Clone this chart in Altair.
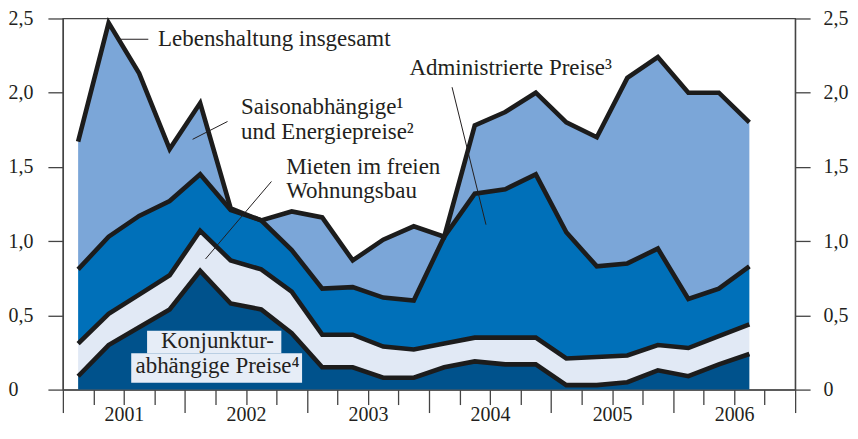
import altair as alt
import pandas as pd

# ---- data (contributions in percentage points) ----
quarters = ["2001 Q1", "2001 Q2", "2001 Q3", "2001 Q4",
            "2002 Q1", "2002 Q2", "2002 Q3", "2002 Q4",
            "2003 Q1", "2003 Q2", "2003 Q3", "2003 Q4",
            "2004 Q1", "2004 Q2", "2004 Q3", "2004 Q4",
            "2005 Q1", "2005 Q2", "2005 Q3", "2005 Q4",
            "2006 Q1", "2006 Q2", "2006 Q3"]
konjunktur = [0.09, 0.30, 0.42, 0.54, 0.80, 0.58, 0.54, 0.38, 0.15, 0.15, 0.08, 0.08,
              0.15, 0.19, 0.17, 0.17, 0.03, 0.03, 0.05, 0.13, 0.09, 0.17, 0.24]
mieten = [0.22, 0.21, 0.22, 0.23, 0.27, 0.29, 0.27, 0.28, 0.22, 0.22, 0.21, 0.19,
          0.16, 0.16, 0.18, 0.18, 0.18, 0.19, 0.18, 0.17, 0.19, 0.19, 0.20]
administriert = [0.50, 0.52, 0.53, 0.50, 0.38, 0.34, 0.33, 0.28, 0.31, 0.32, 0.33, 0.33,
                 0.72, 0.97, 1.00, 1.10, 0.85, 0.61, 0.62, 0.65, 0.33, 0.32, 0.39]
saison = [0.86, 1.44, 0.96, 0.35, 0.48, 0.01, 0.00, 0.26, 0.48, 0.18, 0.39, 0.50,
          0.00, 0.46, 0.52, 0.55, 0.74, 0.87, 1.25, 1.29, 1.39, 1.32, 0.97]

series_names = ["Konjunkturabhängige Preise", "Mieten im freien Wohnungsbau",
                "Administrierte Preise", "Saisonabhängige und Energiepreise"]
series_colors = ["#00528C", "#E1E9F5", "#0070B9", "#7BA6D8"]

y_ticks = [0, 0.5, 1.0, 1.5, 2.0, 2.5]
x_ticks = [2001 + k / 4 for k in range(25)]

# annotation labels
labels_left = pd.DataFrame({
    "x": [2001.78, 2002.46, 2002.46, 2002.83, 2002.83, 2003.84],
    "y": [2.36, 1.905, 1.733, 1.50, 1.336, 2.169],
    "text": ["Lebenshaltung insgesamt", "Saisonabhängige¹", "und Energiepreise²",
             "Mieten im freien", "Wohnungsbau", "Administrierte Preise³"],
})
labels_center = pd.DataFrame({
    "x": [2002.267, 2002.267],
    "y": [0.324, 0.159],
    "text": ["Konjunktur-", "abhängige Preise⁴"],
})
leaders = pd.DataFrame({
    "x": [2001.47, 2002.063, 2002.169, 2004.189],
    "y": [2.36, 1.686, 0.880, 2.037],
    "x2": [2001.70, 2002.349, 2002.709, 2004.467],
    "y2": [2.36, 1.806, 1.402, 1.111],
})
box = pd.DataFrame({
    "x": [2001.69, 2001.56],
    "x2": [2002.79, 2002.96],
    "y": [0.245, 0.046],
    "y2": [0.397, 0.245],
})

rows = []
for i, q in enumerate(quarters):
    year = int(q[:4])
    qq = int(q[-1])
    xv = year + (qq - 0.5) / 4
    lo = 0.0
    for name, vals in zip(series_names, [konjunktur, mieten, administriert, saison]):
        hi = lo + vals[i]
        rows.append({"x": xv, "series": name, "lo": lo, "hi": hi})
        lo = hi
df = pd.DataFrame(rows)

FONT = "Liberation Serif"
TXT = "#231f20"
AX = "#444444"

xscale = alt.Scale(domain=[2001, 2007], nice=False, zero=False)
yscale = alt.Scale(domain=[0, 2.5], nice=False, zero=True)

x_axis = alt.Axis(
    values=x_ticks, title=None, grid=False,
    labelExpr="datum.value % 1 === 0.5 ? toString(floor(datum.value)) : ''",
    labelFont=FONT, labelFontSize=20, labelColor=TXT, labelPadding=0,
    labelOverlap=False, labelFlush=False, labelBaseline="top",
    tickSize={"condition": {"test": "datum.value % 1 === 0", "value": 23}, "value": 15},
    tickColor=AX, tickWidth=1.3, domainColor=AX, domainWidth=1.3,
)
y_label_expr = "datum.value == 0 ? '0' : replace(format(datum.value, '.1f'), '.', ',')"
y_left = alt.Axis(
    orient="left", values=y_ticks, title=None, grid=False, labelExpr=y_label_expr,
    labelFont=FONT, labelFontSize=20, labelColor=TXT, labelAlign="left",
    labelBaseline="middle", labelPadding=40, tickSize=15, tickColor=AX, tickWidth=1.3,
    domainColor=AX, domainWidth=1.3, labelFlush=False, labelOverlap=False,
)
y_right = alt.Axis(
    orient="right", values=y_ticks, title=None, grid=False, labelExpr=y_label_expr,
    labelFont=FONT, labelFontSize=20, labelColor=TXT, labelAlign="left",
    labelBaseline="middle", labelPadding=13, tickSize=15, tickColor=AX, tickWidth=1.3,
    domainColor=AX, domainWidth=1.3, labelFlush=False, labelOverlap=False,
)


def X(field="x"):
    return alt.X(f"{field}:Q", scale=xscale, axis=x_axis)


areas = alt.Chart(df).mark_area(interpolate="linear", opacity=1).encode(
    x=X(),
    y=alt.Y("lo:Q", scale=yscale, axis=y_left),
    y2="hi:Q",
    color=alt.Color("series:N", scale=alt.Scale(domain=series_names, range=series_colors), legend=None),
)

lines = alt.Chart(df).mark_line(
    color="#1c1c1c", strokeWidth=4.6, strokeJoin="miter", strokeCap="butt", interpolate="linear"
).encode(
    x=X(),
    y=alt.Y("hi:Q", scale=yscale, axis=y_right),
    detail="series:N",
)

box_layer = alt.Chart(box).mark_rect(color="#E6EDF7").encode(
    x=X(), x2="x2:Q",
    y=alt.Y("y:Q", scale=yscale, axis=None), y2="y2:Q",
)

leader_layer = alt.Chart(leaders).mark_rule(color=TXT, strokeWidth=1).encode(
    x=X(), x2="x2:Q",
    y=alt.Y("y:Q", scale=yscale, axis=None), y2="y2:Q",
)

text_left = alt.Chart(labels_left).mark_text(
    align="left", baseline="middle", font=FONT, fontSize=23, color=TXT
).encode(
    x=X(), y=alt.Y("y:Q", scale=yscale, axis=None), text="text:N",
)

text_center = alt.Chart(labels_center).mark_text(
    align="center", baseline="middle", font=FONT, fontSize=23, color=TXT
).encode(
    x=X(), y=alt.Y("y:Q", scale=yscale, axis=None), text="text:N",
)

chart = alt.layer(
    areas, lines, box_layer, leader_layer, text_left, text_center
).resolve_scale(
    y="independent"
).properties(
    width=734, height=372,
    padding={"left": 55, "top": 10, "right": 55, "bottom": 41},
    autosize="none",
    background="white",
).configure_view(
    stroke=AX, strokeWidth=1.3
).configure_text(
    font=FONT
)

chart.save("out.html", embed_options={"renderer": "svg", "actions": False})
